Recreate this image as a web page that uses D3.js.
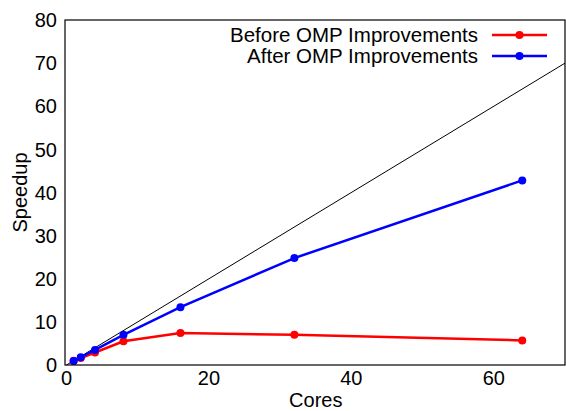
<!DOCTYPE html>
<html><head><meta charset="utf-8">
<script src="https://cdn.jsdelivr.net/npm/d3@7"></script>
<style>body{margin:0;background:#fff}svg{display:block}text{font-family:"Liberation Sans",Arial,sans-serif;fill:#000}</style>
</head><body>
<script>
const cores = [1, 2, 4, 8, 16, 32, 64];
const before = [1.0, 1.6, 2.9, 5.5, 7.4, 7.0, 5.7];
const after = [0.9, 1.8, 3.5, 7.0, 13.4, 24.8, 42.8];
const xTicks = [0, 20, 40, 60];
const yTicks = [0, 10, 20, 30, 40, 50, 60, 70, 80];
const seriesNames = ["Before OMP Improvements", "After OMP Improvements"];
const seriesColors = ["#ff0000", "#0000ff"];

const W = 566, H = 411;
const m = {l: 65, r: 1, t: 20, b: 46};
const svg = d3.select("body").append("svg").attr("width", W).attr("height", H);
const x = d3.scaleLinear().domain([0, 70]).range([m.l + 1.5, W - m.r]);
const y = d3.scaleLinear().domain([0, 80]).range([H - m.b, m.t]);

// ideal line
svg.append("line").attr("x1", x(0)).attr("y1", y(0)).attr("x2", x(70)).attr("y2", y(70))
  .attr("stroke", "#000").attr("stroke-width", 1);

const line = d3.line().x(d => x(d[0])).y(d => y(d[1]));
[before, after].forEach((vals, i) => {
  const pts = cores.map((c, j) => [c, vals[j]]);
  svg.append("path").attr("d", line(pts)).attr("fill", "none")
    .attr("stroke", seriesColors[i]).attr("stroke-width", 2.5);
  svg.selectAll(null).data(pts).enter().append("circle")
    .attr("cx", d => x(d[0])).attr("cy", d => y(d[1])).attr("r", 4)
    .attr("fill", seriesColors[i]);
});

// border
svg.append("rect").attr("x", m.l).attr("y", m.t).attr("width", W - m.l - m.r).attr("height", H - m.b - m.t)
  .attr("fill", "none").attr("stroke", "#000").attr("stroke-width", 1.2);

// tick labels
svg.selectAll(null).data(yTicks).enter().append("text")
  .attr("x", 57).attr("y", d => y(d)).attr("dy", "0.36em").attr("text-anchor", "end")
  .attr("font-size", 20).text(d => d);
svg.selectAll(null).data(xTicks).enter().append("text")
  .attr("x", d => x(d)).attr("y", 385).attr("text-anchor", "middle")
  .attr("font-size", 20).text(d => d);

svg.append("text").attr("x", x(35)).attr("y", 407).attr("text-anchor", "middle").attr("font-size", 20).text("Cores");
svg.append("text").attr("transform", "translate(27," + y(40) + ") rotate(-90)")
  .attr("text-anchor", "middle").attr("font-size", 20).text("Speedup");

// legend
seriesNames.forEach((n, i) => {
  const ly = 35 + i * 21;
  svg.append("text").attr("x", 478).attr("y", ly).attr("dy", "0.36em").attr("text-anchor", "end")
    .attr("font-size", 20.5).text(n);
  svg.append("line").attr("x1", 492).attr("x2", 547).attr("y1", ly).attr("y2", ly)
    .attr("stroke", seriesColors[i]).attr("stroke-width", 2.5);
  svg.append("circle").attr("cx", 519.5).attr("cy", ly).attr("r", 4).attr("fill", seriesColors[i]);
});
</script>
</body></html>
